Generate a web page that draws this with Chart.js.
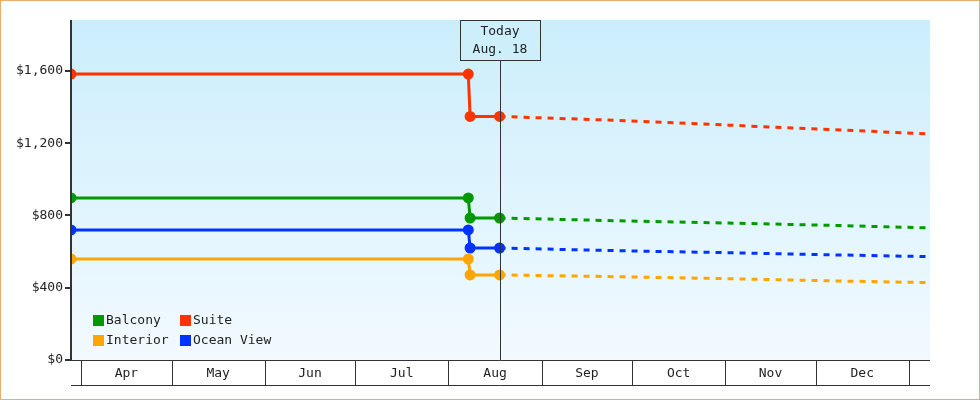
<!DOCTYPE html>
<html><head><meta charset="utf-8">
<script src="https://cdn.jsdelivr.net/npm/chart.js@4"></script>
<style>html,body{margin:0;padding:0;background:#fff}#w{width:980px;height:400px}</style>
</head><body><div id="w"><canvas id="c"></canvas></div>
<script>
// x values are days since Apr 1
const months = ['Apr','May','Jun','Jul','Aug','Sep','Oct','Nov','Dec'];
const monthStarts = [0,30,61,91,122,153,183,214,244,275];
const histDays = [-3.4, 128.6, 129.2, 139];
const foreDays = [139, 175, 215, 250, 282];
const seriesNames = ['Balcony','Suite','Interior','Ocean View'];
const seriesColors = ['#009900','#ff3300','#ffa500','#0033ff'];
const balconyHist = [897, 897, 786, 786];
const balconyFore = [786, 772, 758, 745, 731];
const suiteHist = [1583, 1583, 1348, 1348];
const suiteFore = [1348, 1328, 1300, 1275, 1251];
const interiorHist = [559, 559, 471, 471];
const interiorFore = [471, 462, 450, 438, 428];
const oceanHist = [720, 720, 620, 620];
const oceanFore = [620, 606, 594, 582, 572];
const todayDay = 139;
const todayLabel = ['Today','Aug. 18'];
const yTicks = [0,400,800,1200,1600];

const FONT = '13px "DejaVu Sans Mono", monospace';
const hist = [balconyHist, suiteHist, interiorHist, oceanHist];
const fore = [balconyFore, suiteFore, interiorFore, oceanFore];
const datasets = [];
hist.forEach((h,i)=>datasets.push({label:seriesNames[i],data:histDays.map((d,j)=>({x:d,y:h[j]})),borderColor:seriesColors[i],backgroundColor:seriesColors[i],borderWidth:3,pointRadius:[4,4,4,4],pointHoverRadius:4,tension:0}));
fore.forEach((f,i)=>datasets.push({label:'_f',data:foreDays.map((d,j)=>({x:d,y:f[j]})),borderColor:seriesColors[i],borderWidth:3,borderDash:[6,6],pointRadius:0,tension:0}));

const deco = {
  id:'deco',
  beforeDraw(c){
    const {ctx,chartArea:a} = c;
    ctx.save();
    const g = ctx.createLinearGradient(0,a.top,0,a.bottom);
    g.addColorStop(0,'#cbeefc'); g.addColorStop(1,'#f2faff');
    ctx.fillStyle=g; ctx.fillRect(a.left,a.top,a.right-a.left,a.bottom-a.top);
    ctx.restore();
  },
  afterDatasetsDraw(c){
    const {ctx,chartArea:a,scales:{x,y}} = c;
    ctx.save();
    ctx.strokeStyle='#333'; ctx.lineWidth=1;
    // today line
    const tx = Math.round(x.getPixelForValue(todayDay))+0.5;
    ctx.beginPath(); ctx.moveTo(tx,60); ctx.lineTo(tx,a.bottom); ctx.stroke();
    ctx.fillStyle='#cdeffc'; ctx.fillRect(460,20,80,40);
    ctx.strokeRect(460.5,20.5,80,40);
    ctx.fillStyle='#222'; ctx.font=FONT; ctx.textAlign='center'; ctx.textBaseline='middle';
    ctx.fillText(todayLabel[0],500,32); ctx.fillText(todayLabel[1],500,50);
    // x axis boxes
    const yb = a.bottom, ye = 385;
    ctx.beginPath(); ctx.moveTo(a.left,ye+0.5); ctx.lineTo(a.right,ye+0.5);
    ctx.moveTo(a.left,yb+0.5); ctx.lineTo(a.right,yb+0.5); ctx.stroke();
    monthStarts.forEach(d=>{const px=Math.round(x.getPixelForValue(d))+0.5; ctx.beginPath(); ctx.moveTo(px,yb); ctx.lineTo(px,ye); ctx.stroke();});
    months.forEach((m,i)=>{const px=(x.getPixelForValue(monthStarts[i])+x.getPixelForValue(monthStarts[i+1]))/2; ctx.fillText(m,px,374);});
    // y axis line
    ctx.lineWidth=2; ctx.beginPath(); ctx.moveTo(a.left,a.top); ctx.lineTo(a.left,yb+1); ctx.stroke();
    // legend
    ctx.textAlign='left';
    const pos=[[93,320],[180,320],[93,340],[180,340]];
    seriesNames.forEach((n,i)=>{ctx.fillStyle=seriesColors[i]; ctx.fillRect(pos[i][0],pos[i][1]-5,11,11); ctx.fillStyle='#222'; ctx.fillText(n,pos[i][0]+13,pos[i][1]+1);});
    // border
    ctx.strokeStyle='#e8ae6a'; ctx.lineWidth=1; ctx.strokeRect(0.5,0.5,979,399);
    ctx.restore();
  }
};

new Chart(document.getElementById('c'),{
  type:'line',
  data:{datasets},
  options:{
    responsive:true, maintainAspectRatio:false, animation:false,
    layout:{padding:{top:20,right:50,bottom:40,left:0}},
    plugins:{legend:{display:false},tooltip:{enabled:false}},
    scales:{
      x:{type:'linear',min:-3.4,max:282,display:false},
      y:{min:0,max:1882,afterBuildTicks(s){s.ticks=yTicks.map(v=>({value:v}));},
        afterFit(s){s.width=71;},
        border:{display:false},
        grid:{drawOnChartArea:false,tickLength:6,color:'#333',lineWidth:2},
        ticks:{color:'#222',font:{family:'"DejaVu Sans Mono", monospace',size:13},padding:2,
          callback:v=>'$'+v.toLocaleString('en-US')}}
    }
  },
  plugins:[deco]
});
</script></body></html>
